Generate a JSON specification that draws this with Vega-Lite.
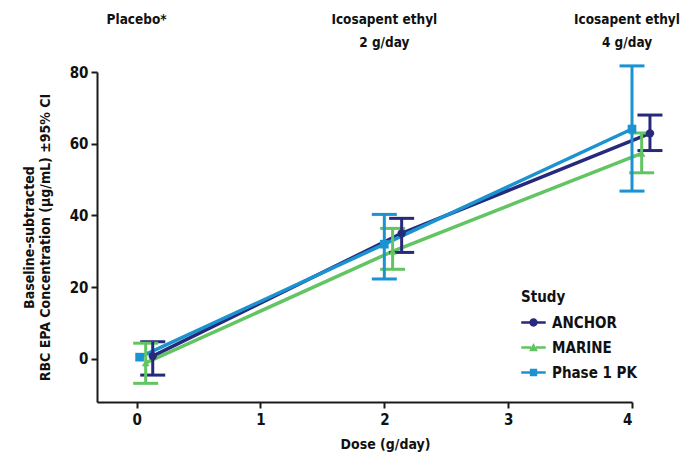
{
  "$schema": "https://vega.github.io/schema/vega-lite/v6.json",
  "autosize": {"type": "none"},
  "padding": {"left": 97, "top": 72, "right": 51, "bottom": 51},
  "width": 535,
  "height": 330,
  "background": "white",
  "config": {
    "font": "DejaVu Sans Condensed",
    "view": {"stroke": null},
    "axis": {
      "grid": false,
      "domainColor": "#1a1a1a",
      "domainWidth": 2,
      "tickColor": "#1a1a1a",
      "tickWidth": 2,
      "tickSize": 6,
      "labelFont": "DejaVu Sans Condensed",
      "labelFontSize": 15,
      "labelFontWeight": "bold",
      "labelColor": "#111",
      "titleFont": "DejaVu Sans Condensed",
      "titleFontSize": 14,
      "titleFontWeight": "bold",
      "titleColor": "#111"
    }
  },
  "data": {
    "values": [
      {"study": "ANCHOR", "x": 0.13, "y": 0.8, "lo": -4.5, "hi": 4.8},
      {"study": "ANCHOR", "x": 2.14, "y": 35.0, "lo": 29.7, "hi": 39.2},
      {"study": "ANCHOR", "x": 4.145, "y": 62.9, "lo": 58.1, "hi": 68.0},
      {"study": "MARINE", "x": 0.073, "y": -1.1, "lo": -6.8, "hi": 4.4},
      {"study": "MARINE", "x": 2.067, "y": 30.0, "lo": 25.0, "hi": 36.4},
      {"study": "MARINE", "x": 4.078, "y": 57.3, "lo": 51.9, "hi": 63.0},
      {"study": "Phase 1 PK", "x": 0.024, "y": 0.5, "lo": null, "hi": null},
      {"study": "Phase 1 PK", "x": 2.0, "y": 32.0, "lo": 22.3, "hi": 40.3},
      {"study": "Phase 1 PK", "x": 4.0, "y": 64.1, "lo": 46.8, "hi": 81.7}
    ]
  },
  "encoding": {
    "x": {
      "field": "x", "type": "quantitative",
      "scale": {"domain": [-0.32, 4], "nice": false, "zero": false},
      "axis": {"values": [0, 1, 2, 3, 4], "title": "Dose (g/day)", "titleX": 288, "titlePadding": 10, "labelPadding": 4}
    },
    "color": {
      "field": "study", "type": "nominal",
      "scale": {"domain": ["ANCHOR", "MARINE", "Phase 1 PK"], "range": ["#27297a", "#62c462", "#1c93d1"]},
      "legend": {
        "title": "Study",
        "orient": "none",
        "legendX": 424,
        "legendY": 218,
        "titleFont": "DejaVu Sans Condensed",
        "titleFontSize": 15,
        "titleFontWeight": "bold",
        "titleColor": "#111",
        "labelFont": "DejaVu Sans Condensed",
        "labelFontSize": 15,
        "labelFontWeight": "bold",
        "labelColor": "#111",
        "symbolSize": 600,
        "rowPadding": 4,
        "labelOffset": 6,
        "encode": {
          "symbols": {
            "update": {
              "shape": {"signal": "datum.value === 'ANCHOR' ? 'M-1,-0.11H-0.2V0.11H-1Z M0.2,-0.11H1V0.11H0.2Z M-0.34,0A0.34,0.34 0 1,1 0.34,0A0.34,0.34 0 1,1 -0.34,0Z' : datum.value === 'MARINE' ? 'M-1,-0.11H-0.2V0.11H-1Z M0.2,-0.11H1V0.11H0.2Z M0,-0.36L0.36,0.3H-0.36Z' : 'M-1,-0.11H-0.2V0.11H-1Z M0.2,-0.11H1V0.11H0.2Z M-0.3,-0.3H0.3V0.3H-0.3Z'"},
              "fill": {"scale": "color", "field": "value"},
              "fillOpacity": {"value": 1},
              "strokeWidth": {"value": 0},
              "opacity": {"value": 1}
            }
          }
        }
      }
    }
  },
  "layer": [
    {
      "mark": {"type": "line", "strokeWidth": 3.5},
      "encoding": {
        "y": {
          "field": "y", "type": "quantitative",
          "title": ["Baseline-subtracted", "RBC EPA Concentration (µg/mL) ±95% CI"],
          "scale": {"domain": [-12, 80], "nice": false, "zero": false},
          "axis": {"values": [0, 20, 40, 60, 80], "titlePadding": 17, "labelPadding": 3}
        }
      }
    },
    {
      "transform": [{"filter": "isValid(datum.lo)"}],
      "mark": {"type": "errorbar", "ticks": {"size": 25, "opacity": 1}, "rule": {"opacity": 1}, "thickness": 3},
      "encoding": {
        "y": {"field": "lo", "type": "quantitative", "title": ["Baseline-subtracted", "RBC EPA Concentration (µg/mL) ±95% CI"]},
        "y2": {"field": "hi"}
      }
    },
    {
      "transform": [{"filter": "datum.study === 'ANCHOR'"}],
      "mark": {"type": "point", "shape": "circle", "filled": true, "opacity": 1, "size": 70},
      "encoding": {
        "y": {"field": "y", "type": "quantitative", "title": ["Baseline-subtracted", "RBC EPA Concentration (µg/mL) ±95% CI"]}
      }
    },
    {
      "transform": [{"filter": "datum.study === 'MARINE'"}],
      "mark": {"type": "point", "shape": "triangle-up", "filled": true, "opacity": 1, "size": 60},
      "encoding": {
        "y": {"field": "y", "type": "quantitative", "title": ["Baseline-subtracted", "RBC EPA Concentration (µg/mL) ±95% CI"]}
      }
    },
    {
      "transform": [{"filter": "datum.study === 'Phase 1 PK'"}],
      "mark": {"type": "point", "shape": "square", "filled": true, "opacity": 1, "size": 75},
      "encoding": {
        "y": {"field": "y", "type": "quantitative", "title": ["Baseline-subtracted", "RBC EPA Concentration (µg/mL) ±95% CI"]}
      }
    },
    {
      "data": {
        "values": [
          {"x": 0, "y": 94.5, "label": "Placebo*"},
          {"x": 2, "y": 94.5, "label": "Icosapent ethyl"},
          {"x": 2, "y": 88.0, "label": "2 g/day"}
        ]
      },
      "mark": {"type": "text", "font": "DejaVu Sans Condensed", "fontSize": 13.5, "fontWeight": "bold", "baseline": "middle", "align": "center"},
      "encoding": {
        "x": {"field": "x", "type": "quantitative"},
        "y": {"field": "y", "type": "quantitative", "title": ["Baseline-subtracted", "RBC EPA Concentration (µg/mL) ±95% CI"]},
        "text": {"field": "label"},
        "color": {"value": "#111"}
      }
    },
    {
      "data": {
        "values": [
          {"x": 4, "y": 94.5, "label": "Icosapent ethyl"},
          {"x": 4, "y": 88.0, "label": "4 g/day"}
        ]
      },
      "mark": {"type": "text", "font": "DejaVu Sans Condensed", "fontSize": 13.5, "fontWeight": "bold", "baseline": "middle", "align": "center", "dx": -5},
      "encoding": {
        "x": {"field": "x", "type": "quantitative"},
        "y": {"field": "y", "type": "quantitative", "title": ["Baseline-subtracted", "RBC EPA Concentration (µg/mL) ±95% CI"]},
        "text": {"field": "label"},
        "color": {"value": "#111"}
      }
    }
  ]
}
